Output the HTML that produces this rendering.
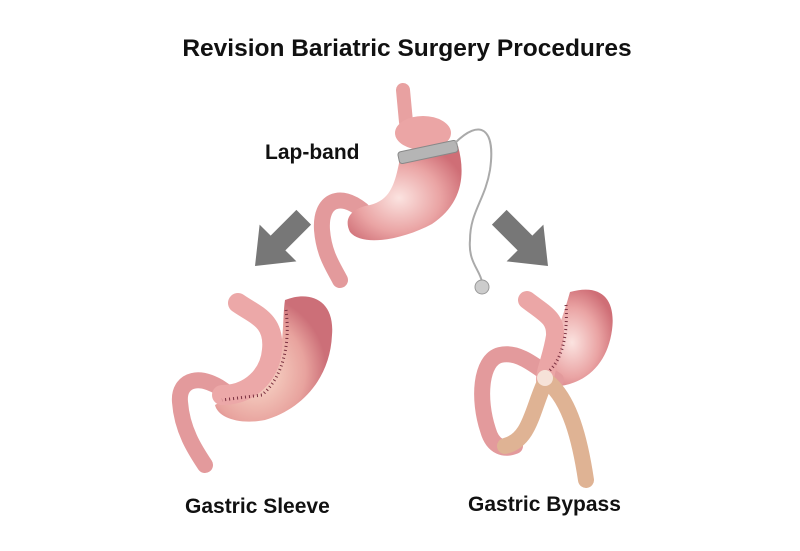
<!DOCTYPE html>
<html><head><meta charset="utf-8"><style>
html,body{margin:0;padding:0;background:#fff;}
svg{display:block}
text{font-family:"Liberation Sans",Arial,sans-serif;font-weight:bold;fill:#111}
</style></head><body>
<svg width="800" height="551" viewBox="0 0 800 551" xmlns="http://www.w3.org/2000/svg">
<defs>
<radialGradient id="st" cx="0.45" cy="0.55" r="0.6">
<stop offset="0" stop-color="#fbe3e0"/><stop offset="0.6" stop-color="#eaa4a4"/><stop offset="1" stop-color="#cf6e76"/>
</radialGradient>
<radialGradient id="sl" cx="0.35" cy="0.6" r="0.6">
<stop offset="0" stop-color="#fbe0cf"/><stop offset="0.7" stop-color="#e8a39e"/><stop offset="1" stop-color="#cc6f78"/>
</radialGradient>
</defs>
<text x="407" y="56" font-size="24.5" text-anchor="middle">Revision Bariatric Surgery Procedures</text>
<text x="265" y="159" font-size="21">Lap-band</text>
<text x="185" y="513" font-size="21">Gastric Sleeve</text>
<text x="468" y="511" font-size="21">Gastric Bypass</text>

<!-- top stomach -->
<path d="M403,90 L406,122" stroke="#e8a1a1" stroke-width="14" stroke-linecap="round" fill="none"/>
<path d="M362,210 C340,192 320,200 322,230 C324,255 334,268 340,280" stroke="#e39a9c" stroke-width="16" stroke-linecap="round" fill="none"/>
<path d="M400,158 C395,185 390,200 370,205 C352,208 343,218 350,232 C362,247 402,240 432,224 C462,204 466,175 458,146 Z" fill="url(#st)"/>
<ellipse cx="423" cy="133" rx="28" ry="17" fill="#eba5a5"/>
<g transform="rotate(-12 428 152)"><rect x="398" y="146" width="60" height="12" rx="3" fill="#b5b5b5" stroke="#888" stroke-width="1"/></g>
<path d="M455,143 C480,118 496,128 490,170 C485,200 470,212 470,240 C468,262 480,270 482,282" stroke="#aaa" stroke-width="2" fill="none"/>
<circle cx="482" cy="287" r="7" fill="#ccc" stroke="#999"/>

<!-- arrows -->
<g transform="translate(278,243) rotate(45) scale(1.3)" fill="#777"><polygon points="-8,-28 8,-28 8,0 20,0 0,25 -20,0 -8,0"/></g>
<g transform="translate(525,243) rotate(-45) scale(1.3)" fill="#777"><polygon points="-8,-28 8,-28 8,0 20,0 0,25 -20,0 -8,0"/></g>

<!-- sleeve -->
<path d="M230,395 C200,370 178,380 180,402 C182,430 195,450 205,465" stroke="#e39a9c" stroke-width="16" stroke-linecap="round" fill="none"/>
<path d="M285,300 C310,290 335,300 332,335 C330,380 300,410 265,420 C240,425 218,418 215,405 C232,395 265,390 275,370 C285,345 282,320 285,300 Z" fill="url(#sl)"/>
<path d="M238,303 C255,315 275,320 272,350 C270,375 250,395 222,395" stroke="#eca8a8" stroke-width="20" stroke-linecap="round" fill="none"/>
<path d="M286,310 C290,340 285,375 262,395 L222,400" stroke="#7a3040" stroke-width="3" stroke-dasharray="1 3" fill="none"/>

<!-- bypass -->
<path d="M570,292 C602,283 616,300 612,330 C608,360 590,382 560,386 C545,386 535,378 540,360 C555,340 562,320 570,292 Z" fill="url(#st)"/>
<path d="M556,380 C540,370 520,350 500,355 C480,360 478,400 488,430 C493,448 505,450 515,446" stroke="#e39a9c" stroke-width="16" stroke-linecap="round" fill="none"/>
<path d="M527,300 C545,314 556,318 555,336 C552,356 545,370 545,380" stroke="#eba6a6" stroke-width="18" stroke-linecap="round" fill="none"/>
<path d="M566,305 C568,335 562,360 548,372" stroke="#7a3040" stroke-width="3" stroke-dasharray="1 3" fill="none"/>
<path d="M545,382 C532,410 530,440 505,446" stroke="#dfb394" stroke-width="16" stroke-linecap="round" fill="none"/>
<path d="M548,382 C570,400 580,440 586,480" stroke="#dfb394" stroke-width="16" stroke-linecap="round" fill="none"/>
<circle cx="545" cy="378" r="8" fill="#f6e2d8"/>
</svg>
</body></html>
